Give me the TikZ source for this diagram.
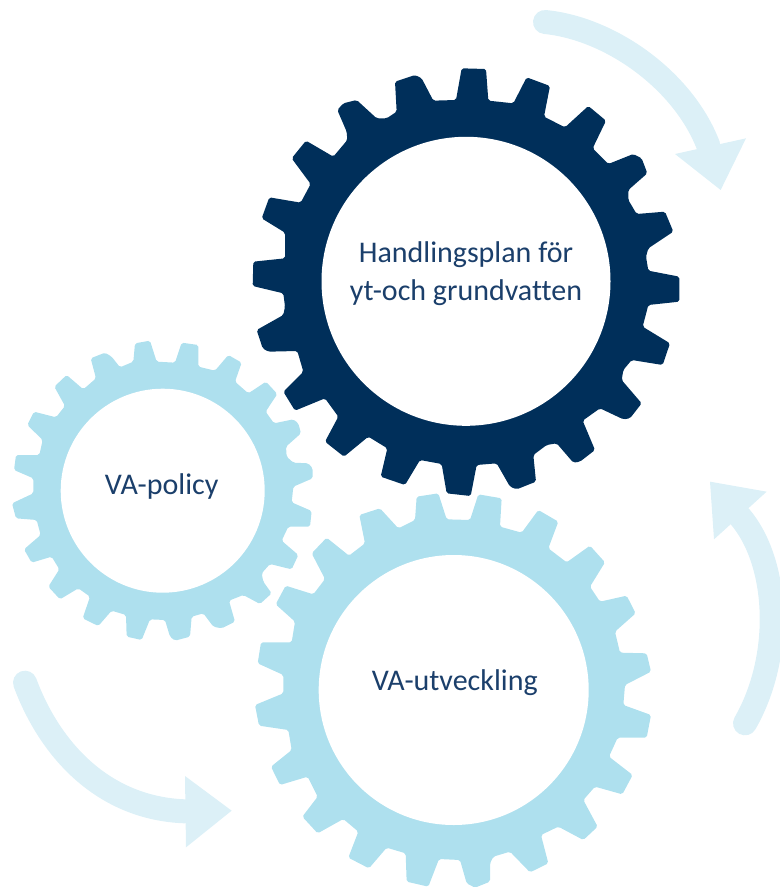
\documentclass[tikz,border=0pt]{standalone}
\usepackage{fontspec}
\setmainfont[Ligatures=NoCommon]{Carlito}
\definecolor{navy}{HTML}{002F5A}
\definecolor{sky}{HTML}{AEE0EE}
\definecolor{pale}{HTML}{DCF0F7}
\definecolor{label}{HTML}{1B3F6B}
\tikzset{
  geardark/.style={fill=navy,rounded corners=1.8pt},
  gearlight/.style={fill=sky,rounded corners=1.8pt},
  hole/.style={fill=white},
  zoomed/.style={x=0.33333pt,y=-0.33333pt},
  shaft/.style={draw=pale,line width=24pt,line cap=round},
  head/.style={fill=pale},
  lbl/.style={anchor=base,text=label,font=\fontsize{30}{34}\selectfont,inner sep=0pt,outer sep=0pt}
}
\begin{document}
\begin{tikzpicture}[x=1pt,y=-1pt]
\useasboundingbox (0,0) rectangle (779,888);
% arrow, top right
\begin{scope}[shift={(520,0)},zoomed]
\path[shaft] (75,66) .. controls (270,85) and (490,240) .. (565,437);
\path[head] (465,462) -- (678,415) -- (602,570) -- cycle;
\end{scope}
% arrow, right
\begin{scope}[shift={(690,470)},zoomed]
\path[shaft] (165,760) .. controls (280,560) and (268,280) .. (150,140);
\path[head] (60,35) -- (230,65) -- (72,208) -- cycle;
\end{scope}
% arrow, bottom left
\begin{scope}[shift={(0,660)},zoomed]
\path[shaft] (75,68) .. controls (150,270) and (310,445) .. (555,454);
\path[head] (555,348) -- (695,452) -- (558,562) -- cycle;
\end{scope}
% small gear
\begin{scope}[shift={(0,330)},zoomed]
\path[gearlight] (470,95) -- (525,98) -- (545,38) -- (595,45) -- (595,110) -- (645,122) -- (685,75) -- (725,98) -- (705,155) -- (745,190) -- (798,155) -- (832,192) -- (797,245) -- (822,280) -- (880,268) -- (895,280) -- (903,310) -- (858,350) -- (860,380) -- (880,398) -- (925,400) -- (938,415) -- (938,445) -- (880,470) -- (875,517) -- (935,543) -- (930,590) -- (865,590) -- (845,632) -- (895,675) -- (875,718) -- (810,702) -- (785,730) -- (790,755) -- (815,790) -- (780,822) -- (730,795) -- (687,812) -- (705,875) -- (665,895) -- (640,890) -- (610,850) -- (575,860) -- (570,920) -- (525,932) -- (510,920) -- (495,870) -- (450,868) -- (425,930) -- (380,920) -- (378,855) -- (335,842) -- (295,888) -- (248,865) -- (270,800) -- (235,775) -- (180,808) -- (145,770) -- (178,718) -- (155,680) -- (95,698) -- (72,658) -- (122,615) -- (110,570) -- (48,565) -- (36,520) -- (100,490) -- (100,445) -- (42,420) -- (48,375) -- (118,375) -- (128,330) -- (82,285) -- (102,245) -- (168,262) -- (195,228) -- (163,170) -- (200,135) -- (250,178) -- (288,145) -- (272,85) -- (315,68) -- (335,80) -- (360,112) -- (400,95) -- (405,40) -- (450,32) -- cycle;
\end{scope}
\path[hole] (162.7,490.7) circle[radius=102];
% lower gear
\begin{scope}[shift={(245,485)},zoomed]
\path[gearlight] (605,103) -- (675,105) -- (700,28) -- (770,40) -- (765,125) -- (830,143) -- (880,75) -- (940,110) -- (910,190) -- (965,232) -- (1035,182) -- (1080,232) -- (1035,305) -- (1065,350) -- (1145,332) -- (1172,385) -- (1110,440) -- (1125,503) -- (1205,505) -- (1218,560) -- (1140,600) -- (1135,660) -- (1218,690) -- (1205,758) -- (1118,758) -- (1092,815) -- (1163,870) -- (1132,928) -- (1050,905) -- (1015,945) -- (1058,1025) -- (1015,1065) -- (940,1025) -- (888,1050) -- (910,1135) -- (855,1162) -- (795,1100) -- (745,1115) -- (735,1135) -- (735,1190) -- (690,1208) -- (665,1195) -- (645,1125) -- (582,1122) -- (550,1205) -- (485,1190) -- (482,1105) -- (425,1088) -- (372,1150) -- (310,1118) -- (340,1040) -- (295,1002) -- (218,1045) -- (172,995) -- (218,935) -- (188,875) -- (105,900) -- (78,845) -- (140,795) -- (130,735) -- (42,722) -- (30,660) -- (115,625) -- (115,570) -- (38,535) -- (48,472) -- (140,472) -- (150,410) -- (92,358) -- (122,302) -- (205,328) -- (240,282) -- (200,205) -- (245,158) -- (312,212) -- (360,175) -- (343,90) -- (405,70) -- (460,130) -- (510,105) -- (515,35) -- (580,25) -- cycle;
\end{scope}
\path[hole] (453.7,690) circle[radius=135];
% dark gear
\begin{scope}[shift={(240,50)},zoomed]
\path[geardark] (648,150) -- (665,55) -- (738,57) -- (745,152) -- (820,160) -- (860,82) -- (930,108) -- (912,200) -- (975,232) -- (1045,168) -- (1098,212) -- (1058,295) -- (1105,342) -- (1180,312) -- (1205,325) -- (1222,370) -- (1165,420) -- (1165,450) -- (1190,492) -- (1275,485) -- (1300,545) -- (1225,595) -- (1218,620) -- (1225,662) -- (1318,680) -- (1318,755) -- (1225,765) -- (1208,830) -- (1290,880) -- (1268,945) -- (1175,930) -- (1150,960) -- (1145,990) -- (1205,1060) -- (1170,1105) -- (1150,1108) -- (1080,1075) -- (1028,1112) -- (1065,1200) -- (1020,1235) -- (1000,1238) -- (950,1180) -- (920,1185) -- (880,1215) -- (888,1295) -- (830,1318) -- (810,1310) -- (770,1240) -- (710,1245) -- (692,1338) -- (620,1330) -- (605,1242) -- (540,1230) -- (495,1305) -- (422,1280) -- (442,1195) -- (385,1160) -- (312,1220) -- (255,1175) -- (295,1100) -- (255,1045) -- (165,1082) -- (130,1025) -- (190,965) -- (172,903) -- (85,905) -- (68,895) -- (50,840) -- (130,795) -- (135,770) -- (130,730) -- (38,708) -- (40,635) -- (135,625) -- (135,548) -- (65,505) -- (88,442) -- (182,458) -- (212,402) -- (155,325) -- (198,272) -- (280,320) -- (322,270) -- (320,245) -- (292,180) -- (310,160) -- (350,150) -- (410,205) -- (440,205) -- (470,185) -- (465,95) -- (525,75) -- (545,85) -- (580,152) -- cycle;
\end{scope}
\path[hole] (466,281.3) circle[radius=144.5];
% labels
\node[lbl] (plan1) at (466,262) {Handlingsplan för};
\node[lbl] (plan2) at (466,300) {yt-och grundvatten};
\node[lbl] (policy) at (161.7,494) {VA-policy};
\node[lbl] (utv) at (454.7,690) {VA-utveckling};
\end{tikzpicture}
\end{document}
